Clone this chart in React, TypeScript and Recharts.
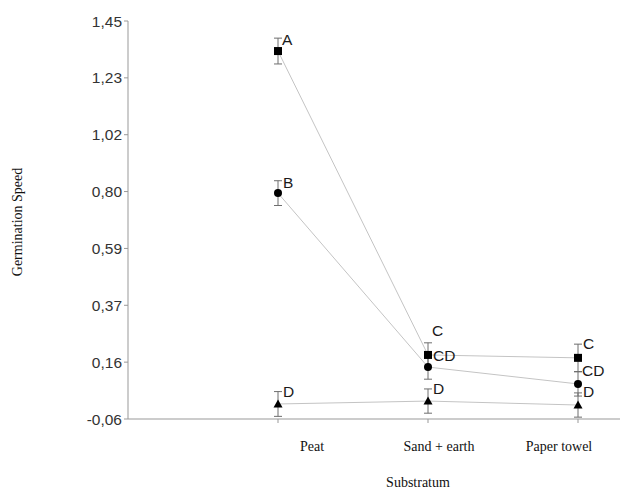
import { LineChart, Line, XAxis, YAxis, ErrorBar, LabelList, Label } from "recharts";

const categories = ["Peat", "Sand + earth", "Paper towel"];
const positions = [1, 2, 3];

const squareMean = [1.336, 0.183, 0.172];
const squareErr = [0.049, 0.046, 0.052];
const squareLetter = ["A", "C", "C"];

const circleMean = [0.797, 0.137, 0.073];
const circleErr = [0.047, 0.046, 0.046];
const circleLetter = ["B", "CD", "CD"];

const triangleMean = [-0.003, 0.008, -0.007];
const triangleErr = [0.047, 0.046, 0.046];
const triangleLetter = ["D", "D", "D"];

const yTicks = [-0.06, 0.1557, 0.3714, 0.5871, 0.8029, 1.0186, 1.2343, 1.45];

const data = positions.map((x, i) => ({
  x,
  sq: squareMean[i], sqErr: squareErr[i], sqLab: squareLetter[i],
  ci: circleMean[i], ciErr: circleErr[i], ciLab: circleLetter[i],
  tr: triangleMean[i], trErr: triangleErr[i], trLab: triangleLetter[i],
}));

// label nudges (px), style only
const squareOff = [[4, -12], [4, -24], [5, -14]];
const circleOff = [[5, -11], [5, -12], [4, -13]];
const triangleOff = [[5, -12], [5, -13], [5, -14]];
const catShift = [34, 11, -19];

const SANS = "'Liberation Sans', Arial, sans-serif";
const SERIF = "'Liberation Serif', 'Times New Roman', serif";
const LINE = "#c4c4c4";
const ERR = "#6e6e6e";

const Square = (p: any) => (
  <rect key={`sq-${p.index}`} x={p.cx - 4} y={p.cy - 4} width={8} height={8} fill="#000" />
);
const Circle = (p: any) => (
  <circle key={`ci-${p.index}`} cx={p.cx} cy={p.cy} r={4} fill="#000" />
);
const Triangle = (p: any) => (
  <path
    key={`tr-${p.index}`}
    d={`M${p.cx},${p.cy - 4.5} L${p.cx + 4.5},${p.cy + 3.5} L${p.cx - 4.5},${p.cy + 3.5} Z`}
    fill="#000"
  />
);

const letter = (off: number[][]) => (p: any) => {
  const o = off[p.index] || [5, -12];
  return (
    <text x={p.x + o[0]} y={p.y + o[1]} dominantBaseline="central" fontSize={15.5}
      fontFamily={SANS} fill="#1a1a1a">
      {p.value}
    </text>
  );
};

const XTick = (p: any) => (
  <text x={p.x + catShift[p.index]} y={p.y + 26} textAnchor="middle" fontFamily={SERIF}
    fontSize={14} fill="#111">
    {categories[p.index]}
  </text>
);

export default function App() {
  return (
    <div style={{ position: "absolute", left: 0, top: 0, width: 620, height: 488, background: "#fff" }}>
      <LineChart width={620} height={488} data={data} margin={{ top: 21, right: 0, bottom: 0, left: 0 }}>
        <XAxis type="number" dataKey="x" domain={[0, 3.28]} ticks={positions} tick={<XTick />}
          tickSize={4} stroke="#999" height={69} allowDataOverflow>
          <Label content={() => (
            <text x={418} y={482} textAnchor="middle" dominantBaseline="central" fontFamily={SERIF}
              fontSize={14} fill="#111">Substratum</text>
          )} />
        </XAxis>
        <YAxis type="number" domain={[-0.06, 1.45]} ticks={yTicks} width={128} tickSize={4}
          stroke="#999" interval={0}
          tick={{ fill: "#333", fontSize: 15.5, fontFamily: SANS }}
          tickFormatter={(v: number) => v.toFixed(2).replace(".", ",")}>
          <Label content={() => (
            <text transform="translate(17,222) rotate(-90)" textAnchor="middle" dominantBaseline="central"
              fontFamily={SERIF} fontSize={14} fill="#111">Germination Speed</text>
          )} />
        </YAxis>

        <Line dataKey="tr" stroke={LINE} strokeWidth={1} dot={Triangle} activeDot={false} isAnimationActive={false}>
          <ErrorBar dataKey="trErr" direction="y" width={4} stroke={ERR} strokeWidth={1} />
          <LabelList dataKey="trLab" content={letter(triangleOff)} />
        </Line>
        <Line dataKey="ci" stroke={LINE} strokeWidth={1} dot={Circle} activeDot={false} isAnimationActive={false}>
          <ErrorBar dataKey="ciErr" direction="y" width={4} stroke={ERR} strokeWidth={1} />
          <LabelList dataKey="ciLab" content={letter(circleOff)} />
        </Line>
        <Line dataKey="sq" stroke={LINE} strokeWidth={1} dot={Square} activeDot={false} isAnimationActive={false}>
          <ErrorBar dataKey="sqErr" direction="y" width={4} stroke={ERR} strokeWidth={1} />
          <LabelList dataKey="sqLab" content={letter(squareOff)} />
        </Line>
      </LineChart>
    </div>
  );
}
